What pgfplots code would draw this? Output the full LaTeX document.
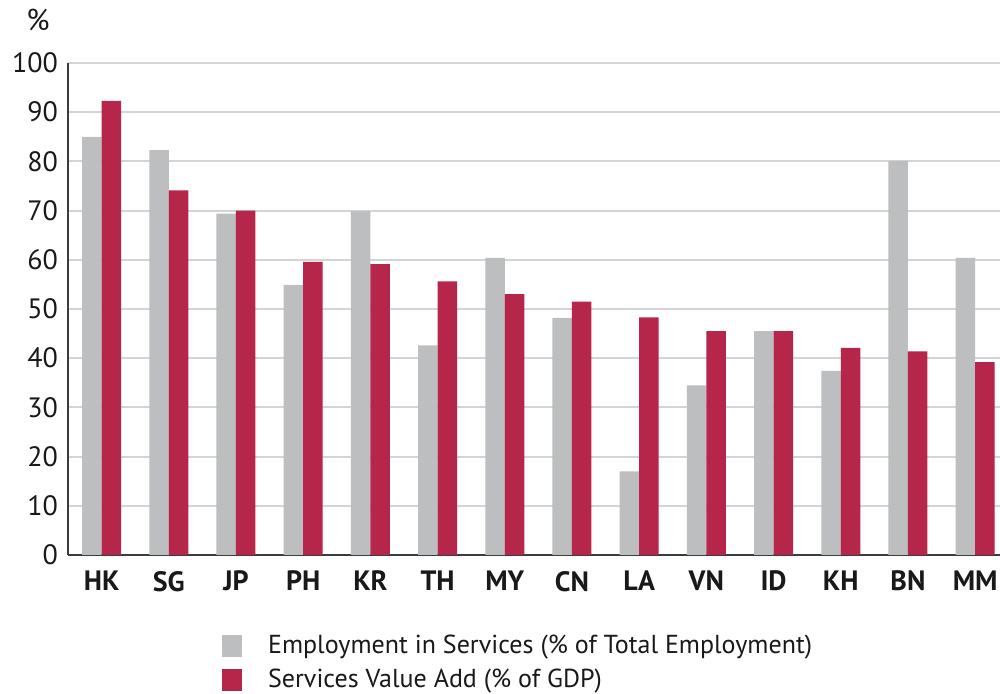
\documentclass[border=0pt]{standalone}
\usepackage{fontspec}
\setmainfont{PT Sans}
\usepackage{pgfplots}
\pgfplotsset{compat=1.18}
\definecolor{empgray}{RGB}{189,190,192}
\definecolor{vared}{RGB}{181,38,74}
\definecolor{gridc}{RGB}{212,212,212}
\definecolor{axc}{RGB}{60,60,60}
\definecolor{txt}{RGB}{25,25,25}

\pgfplotstableread{
x  cat  emp   va
0  HK   85.0  92.3
1  SG   82.3  74.1
2  JP   69.4  70.0
3  PH   54.9  59.6
4  KR   69.9  59.1
5  TH   42.6  55.6
6  MY   60.4  53.0
7  CN   48.2  51.5
8  LA   17.0  48.3
9  VN   34.5  45.5
10 ID   45.5  45.5
11 KH   37.4  42.1
12 BN   80.1  41.4
13 MM   60.4  39.2
}\datatable

\begin{document}
\begin{tikzpicture}
  \begin{axis}[
    scale only axis,
    width=466pt, height=246pt,
    xmin=-0.5, xmax=13.37,
    ymin=0, ymax=100,
    clip=false,
    ytick={0,10,...,100},
    xtick=data,
    xticklabels from table={\datatable}{cat},
    axis x line*=bottom,
    axis y line*=left,
    axis line style={axc, line width=1pt},
    major tick length=0pt,
    ymajorgrids,
    grid style={gridc, line width=1pt},
    /pgf/number format/assume math mode=true,
    yticklabel style={font=\fontsize{14}{16}\selectfont, text=txt, xshift=-1.5pt},
    xticklabel style={font=\fontsize{14}{16}\selectfont\bfseries, text=txt, yshift=-4.5pt},
    bar width=9.75pt,
    legend cell align=left,
    legend style={
      draw=none, fill=none,
      at={(0.1585,-0.15)}, anchor=north west,
      font=\fontsize{13}{15}\selectfont,
      text=txt,
      row sep=4pt,
      nodes={inner sep=1pt},
      /tikz/every odd column/.append style={column sep=12pt},
    },
    legend image code/.code={
      \fill[#1] (0pt,-5.5pt) rectangle (10pt,5.5pt);
    },
  ]
    \addplot[ybar, fill=empgray, draw=none, bar shift=-4.875pt] table[x=x, y=emp] {\datatable};
    \addlegendentry{Employment in Services (\% of Total Employment)}
    \addplot[ybar, fill=vared, draw=none, bar shift=4.875pt] table[x=x, y=va] {\datatable};
    \addlegendentry{Services Value Add (\% of GDP)}
    \node[font=\fontsize{15}{17}\selectfont, text=txt] at ([shift={(-15pt,21.5pt)}]rel axis cs:0,1) {\%};
  \end{axis}
  \pgfresetboundingbox
  \useasboundingbox (-34pt,-69.5pt) rectangle (466pt,277.5pt);
\end{tikzpicture}
\end{document}
